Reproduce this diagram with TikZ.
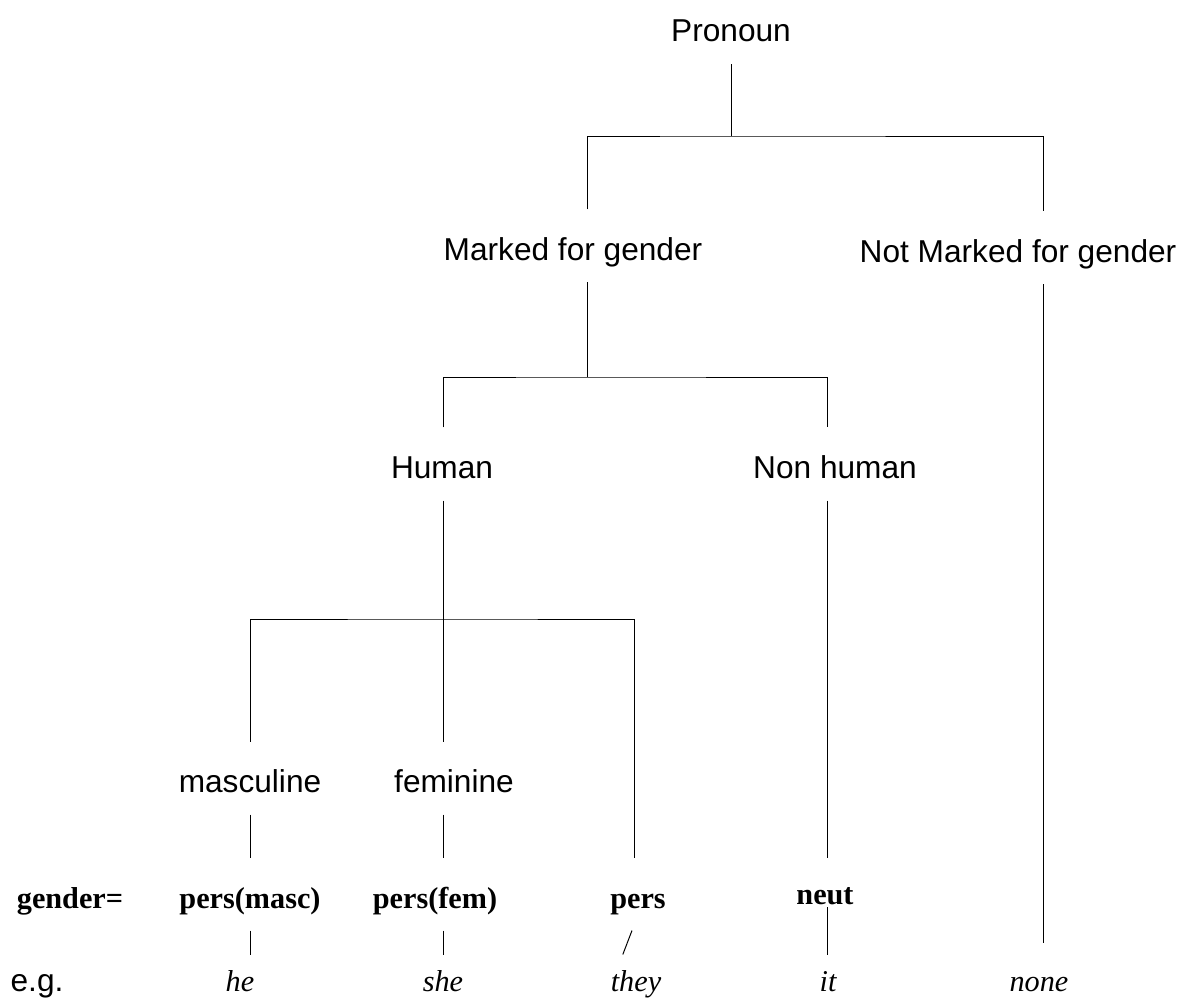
\documentclass[tikz,border=0pt]{standalone}
\usepackage{fontspec}
\setmainfont{Liberation Sans}
\newfontfamily\tnr{Liberation Serif}
\tikzset{
  lab/.style={anchor=base, inner sep=0pt, text height=1.25cm, text depth=0.55cm, font=\fontsize{22.5}{27}\selectfont},
  gram/.style={lab, font=\tnr\bfseries\fontsize{21.5}{26}\selectfont},
  ex/.style={lab, text height=0.9cm, text depth=0.15cm, font=\tnr\itshape\fontsize{21.5}{26}\selectfont},
}
\begin{document}
\begin{tikzpicture}[x=0.025cm,y=-0.025cm,line width=0.7pt]
  \useasboundingbox (0,0) rectangle (1182,998);
  % labels of the tree
  \node[lab] (pron) at (731,42) {Pronoun};
  \node[lab] (marked) at (573,260) {Marked for gender};
  \node[lab] (notmk) at (1018,262) {Not Marked for gender};
  \node[lab] (human) at (442,478) {Human};
  \node[lab] (nonhum) at (835,478) {Non human};
  \node[lab] (masc) at (250,792) {masculine};
  \node[lab] (fem) at (454,792) {feminine};
  % gender values
  \node[gram] (gen) at (70,908) {gender=};
  \node[gram] (pm) at (250,908) {pers(masc)};
  \node[gram] (pf) at (435,908) {pers(fem)};
  \node[gram] (ps) at (638,908) {pers};
  \node[gram] (nt) at (825,904) {neut};
  % examples
  \node[ex, font=\fontsize{22.5}{27}\selectfont] (eg) at (37,991) {e.g.};
  \node[ex] (he) at (240,991) {he};
  \node[ex] (she) at (443,991) {she};
  \node[ex] (they) at (636,991) {they};
  \node[ex] (it) at (828,991) {it};
  \node[ex] (none) at (1039,991) {none};
  % junctions and columns
  \coordinate (top) at (731,136);
  \coordinate (mid) at (587,377);
  \coordinate (low) at (443,619);
  \coordinate (xn) at (1043,0);
  \coordinate (xnh) at (827,0);
  \coordinate (xma) at (250,0);
  \coordinate (xth) at (634,0);
  \draw (pron.south) -- (top);
  \draw (mid |- marked.north) |- (top) -| (xn |- notmk.north);
  \draw (mid |- marked.south) -- (mid);
  \draw (low |- human.north) |- (mid) -| (xnh |- nonhum.north);
  \draw (low |- human.south) -- (low |- fem.north);
  \draw (xma |- masc.north) |- (low) -| (xth |- ps.north);
  \draw (xnh |- nonhum.south) -- (xnh |- ps.north);
  \draw[shorten >=0.3cm] (xn |- notmk.south) -- (xn |- none.north);
  \draw (masc.south) -- (pm.north);
  \draw (low |- fem.south) -- (low |- pf.north);
  \draw (xma |- pm.south) -- (xma |- he.north);
  \draw (low |- pf.south) -- (low |- she.north);
  \draw ([xshift=-0.15cm]ps.south) -- ([xshift=-0.33cm]they.north);
  \draw ([yshift=-0.08cm]xnh |- nt.base) -- (xnh |- it.north);
\end{tikzpicture}
\end{document}
